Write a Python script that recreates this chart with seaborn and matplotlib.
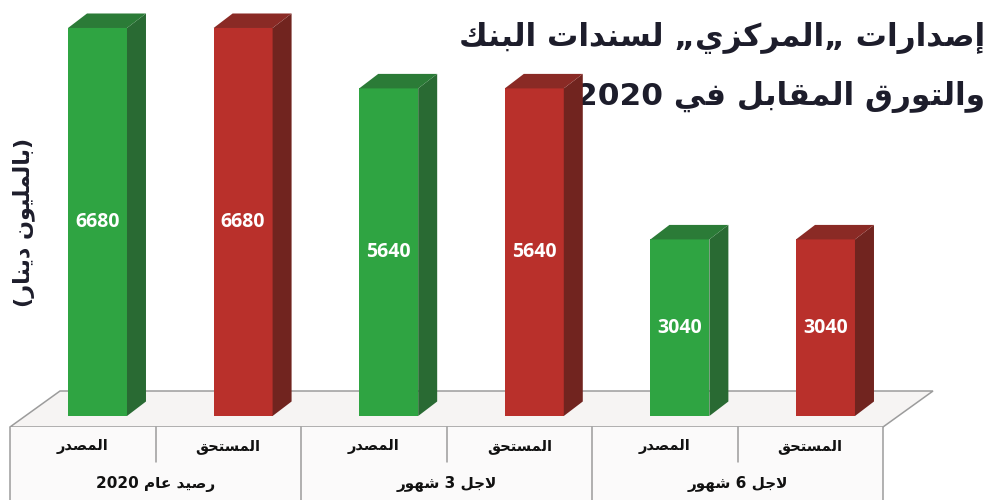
import matplotlib
matplotlib.use("Agg")
import matplotlib.pyplot as plt
import seaborn as sns
import pandas as pd
from matplotlib.patches import Polygon

# ---------------- data ----------------
groups = ["رصيد عام 2020", "لاجل 3 شهور", "لاجل 6 شهور"]
types = ["المصدر", "المستحق"]
issued = [6680, 5640, 3040]      # المصدر
due = [6680, 5640, 3040]         # المستحق
title_lines = ["إصدارات „المركزي„ لسندات البنك", "والتورق المقابل في 2020"]
unit_label = "(بالمليون دينار)"

# ---------------- minimal Arabic shaping for display ----------------
_FOUR = {0x0626: 0xFE89, 0x0628: 0xFE8F, 0x062A: 0xFE95, 0x062B: 0xFE99, 0x062C: 0xFE9D,
         0x062D: 0xFEA1, 0x062E: 0xFEA5, 0x0633: 0xFEB1, 0x0634: 0xFEB5, 0x0635: 0xFEB9,
         0x0636: 0xFEBD, 0x0637: 0xFEC1, 0x0638: 0xFEC5, 0x0639: 0xFEC9, 0x063A: 0xFECD,
         0x0641: 0xFED1, 0x0642: 0xFED5, 0x0643: 0xFED9, 0x0644: 0xFEDD, 0x0645: 0xFEE1,
         0x0646: 0xFEE5, 0x0647: 0xFEE9, 0x064A: 0xFEF1}
_TWO = {0x0622: 0xFE81, 0x0623: 0xFE83, 0x0624: 0xFE85, 0x0625: 0xFE87, 0x0627: 0xFE8D,
        0x0629: 0xFE93, 0x062F: 0xFEA9, 0x0630: 0xFEAB, 0x0631: 0xFEAD, 0x0632: 0xFEAF,
        0x0648: 0xFEED, 0x0649: 0xFEEF}
_LAMALEF = {0x0622: 0xFEF5, 0x0623: 0xFEF7, 0x0625: 0xFEF9, 0x0627: 0xFEFB}


def _is_ar(c):
    return ord(c) in _FOUR or ord(c) in _TWO or ord(c) == 0x0621


def shape(text):
    out = []
    i = 0
    n = len(text)
    while i < n:
        c = text[i]
        o = ord(c)
        prev = text[i - 1] if i > 0 else ""
        join_prev = bool(prev) and ord(prev) in _FOUR
        if o == 0x0644 and i + 1 < n and ord(text[i + 1]) in _LAMALEF:
            base = _LAMALEF[ord(text[i + 1])]
            out.append(chr(base + (1 if join_prev else 0)))
            i += 2
            continue
        nxt = text[i + 1] if i + 1 < n else ""
        join_next = bool(nxt) and _is_ar(nxt)
        if o in _FOUR:
            b = _FOUR[o]
            if join_prev and join_next:
                f = b + 3
            elif join_prev:
                f = b + 1
            elif join_next:
                f = b + 2
            else:
                f = b
            out.append(chr(f))
        elif o in _TWO:
            out.append(chr(_TWO[o] + (1 if join_prev else 0)))
        elif o == 0x0621:
            out.append(chr(0xFE80))
        else:
            out.append(c)
        i += 1
    # visual order: reverse, keep digit runs LTR, mirror brackets
    s = "".join(out)[::-1]
    res, run = [], ""
    mirror = {"(": ")", ")": "("}
    for c in s:
        if c.isdigit():
            run += c
        else:
            if run:
                res.append(run[::-1])
                run = ""
            res.append(mirror.get(c, c))
    if run:
        res.append(run[::-1])
    return "".join(res)


# ---------------- figure ----------------
sns.set_theme(style="white")
plt.rcParams["font.family"] = ["DejaVu Sans"]

GREEN = "#2fa442"
GREEN_SIDE = "#296a33"
GREEN_TOP = "#2b7b37"
RED = "#b9302b"
RED_SIDE = "#71241f"
RED_TOP = "#8a2a25"
face = {types[0]: (GREEN, GREEN_SIDE, GREEN_TOP), types[1]: (RED, RED_SIDE, RED_TOP)}

rows = []
for g, a, b in zip(groups, issued, due):
    rows.append({"key": g + "|" + types[0], "type": types[0], "value": a})
    rows.append({"key": g + "|" + types[1], "type": types[1], "value": b})
df = pd.DataFrame(rows)

W, H = 1000, 500
fig = plt.figure(figsize=(10, 5), dpi=100)
fig.patch.set_facecolor("white")

# overlay for platform / table (pixel coordinates)
deco = fig.add_axes([0, 0, 1, 1], zorder=0)
deco.set_xlim(0, W)
deco.set_ylim(H, 0)
deco.axis("off")

tbl_left, tbl_right, tbl_top, row_split = 10, 883, 427, 462
plat_back = 391
plat = Polygon([(60, plat_back), (933, plat_back), (tbl_right, tbl_top), (tbl_left, tbl_top)],
               closed=True, facecolor="#f6f4f3", edgecolor="#9c9c9c", lw=1.1)
deco.add_patch(plat)
deco.add_patch(Polygon([(tbl_left, tbl_top), (tbl_right, tbl_top), (tbl_right, H), (tbl_left, H)],
                       closed=True, facecolor="#fbfafa", edgecolor="none"))
ncell = len(df)
cw = (tbl_right - tbl_left) / ncell
line_kw = dict(color="#9c9c9c", lw=1.1)
for k in range(ncell + 1):
    xx = tbl_left + k * cw
    if k % 2 == 0:
        deco.plot([xx, xx], [tbl_top, H], **line_kw)
    else:
        deco.plot([xx, xx], [tbl_top, row_split], **line_kw)
for k, t in enumerate(df["type"]):
    deco.text(tbl_left + (k + 0.5) * cw, 447, shape(t), ha="center", va="center",
              fontsize=10.5, fontweight="bold", color="#111111")
for k, g in enumerate(groups):
    deco.text(tbl_left + (2 * k + 1) * cw, 484, shape(g), ha="center", va="center",
              fontsize=11, fontweight="bold", color="#111111")

# title and unit label
deco.text(985, 38, shape(title_lines[0]), ha="right", va="center", fontsize=22.5,
          fontweight="bold", color="#1d1d2b")
deco.text(985, 97, shape(title_lines[1]), ha="right", va="center", fontsize=22.5,
          fontweight="bold", color="#1d1d2b")
deco.text(24, 222, shape(unit_label), ha="center", va="center", rotation=90, fontsize=16,
          fontweight="bold", color="#1d1d2b")

# bars
ymax = 7000
ax = fig.add_axes([0.0247, 0.168, 0.8736, 0.8132], zorder=2)
ax.patch.set_alpha(0)
sns.barplot(data=df, x="key", y="value", hue="type", dodge=False, width=0.405,
            palette={types[0]: GREEN, types[1]: RED}, legend=False, ax=ax,
            saturation=1, edgecolor="none", linewidth=0)
ax.set_xlim(-0.5, len(df) - 0.5)
ax.set_ylim(0, ymax)
ax.axis("off")

ax_w_px = 0.8736 * W
ax_h_px = 0.8132 * H
dx = 19 / (ax_w_px / len(df))
dy = 14.5 / (ax_h_px / ymax)

for p in ax.patches:
    h = p.get_height()
    if h <= 0:
        continue
    x0 = p.get_x()
    x1 = x0 + p.get_width()
    col = p.get_facecolor()
    key = types[0] if abs(col[0] - int(GREEN[1:3], 16) / 255) < 0.02 else types[1]
    _, side_c, top_c = face[key]
    ax.add_patch(Polygon([(x1, 0), (x1 + dx, dy), (x1 + dx, h + dy), (x1, h)], closed=True,
                         facecolor=side_c, edgecolor="none", clip_on=False))
    ax.add_patch(Polygon([(x0, h), (x0 + dx, h + dy), (x1 + dx, h + dy), (x1, h)], closed=True,
                         facecolor=top_c, edgecolor="none", clip_on=False))
    ax.text(x0 + p.get_width() / 2, h / 2, f"{int(h)}", ha="center", va="center",
            color="white", fontsize=14, fontweight="bold", family="Open Sans")

fig.savefig("out.png", dpi=100, facecolor="white")
